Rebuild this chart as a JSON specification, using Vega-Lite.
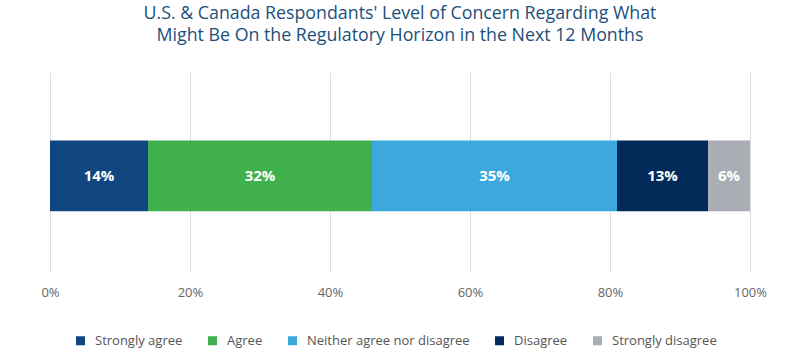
{
  "$schema": "https://vega.github.io/schema/vega-lite/v6.json",
  "autosize": "none",
  "width": 700,
  "height": 200,
  "padding": {"left": 50, "top": 72, "right": 50, "bottom": 81},
  "background": "white",
  "config": {"view": {"stroke": null}, "font": "Open Sans"},
  "title": {
    "text": ["U.S. & Canada Respondants' Level of Concern Regarding What", "Might Be On the Regulatory Horizon in the Next 12 Months"],
    "font": "Open Sans",
    "fontSize": 17.8,
    "fontWeight": "normal",
    "color": "#1d4f7c",
    "anchor": "middle",
    "lineHeight": 22,
    "offset": 27
  },
  "data": {
    "values": [
      {"group": "All", "category": "Strongly agree", "value": 14, "order": 1, "label": "14%"},
      {"group": "All", "category": "Agree", "value": 32, "order": 2, "label": "32%"},
      {"group": "All", "category": "Neither agree nor disagree", "value": 35, "order": 3, "label": "35%"},
      {"group": "All", "category": "Disagree", "value": 13, "order": 4, "label": "13%"},
      {"group": "All", "category": "Strongly disagree", "value": 6, "order": 5, "label": "6%"}
    ]
  },
  "transform": [
    {"stack": "value", "sort": [{"field": "order"}], "as": ["v0", "v1"], "groupby": ["group"]},
    {"calculate": "(datum.v0 + datum.v1) / 2", "as": "mid"}
  ],
  "encoding": {
    "y": {"field": "group", "type": "nominal", "axis": null,
      "scale": {"paddingInner": 0, "paddingOuter": 0.91, "align": 0.53}}
  },
  "layer": [
    {
      "mark": {"type": "bar"},
      "encoding": {
        "x": {"field": "v0", "type": "quantitative",
          "scale": {"domain": [0, 100]},
          "axis": {"values": [0, 20, 40, 60, 80, 100], "labelExpr": "datum.value + '%'",
            "title": null, "domain": false, "ticks": false, "grid": true, "gridColor": "#dddddd",
            "labelFont": "Open Sans", "labelFontSize": 13, "labelColor": "#666666", "labelPadding": 14,
            "labelFlush": false}},
        "x2": {"field": "v1"},
        "color": {"field": "category", "type": "nominal",
          "scale": {"domain": ["Strongly agree", "Agree", "Neither agree nor disagree", "Disagree", "Strongly disagree"],
            "range": ["#10467f", "#3fb04c", "#3ba9de", "#022b5a", "#a9adb4"]},
          "legend": {"title": null, "orient": "none", "direction": "horizontal", "legendX": 24, "legendY": 262,
            "symbolType": "square", "symbolSize": 81, "symbolStrokeWidth": 0, "labelFont": "Open Sans",
            "labelFontSize": 13, "labelColor": "#555555", "columnPadding": 23, "labelOffset": 8, "labelLimit": 400}}
      }
    },
    {
      "mark": {"type": "text", "color": "white", "fontWeight": "bold", "fontSize": 15, "font": "Open Sans", "baseline": "middle", "align": "center"},
      "encoding": {
        "x": {"field": "mid", "type": "quantitative"},
        "text": {"field": "label"}
      }
    }
  ]
}
